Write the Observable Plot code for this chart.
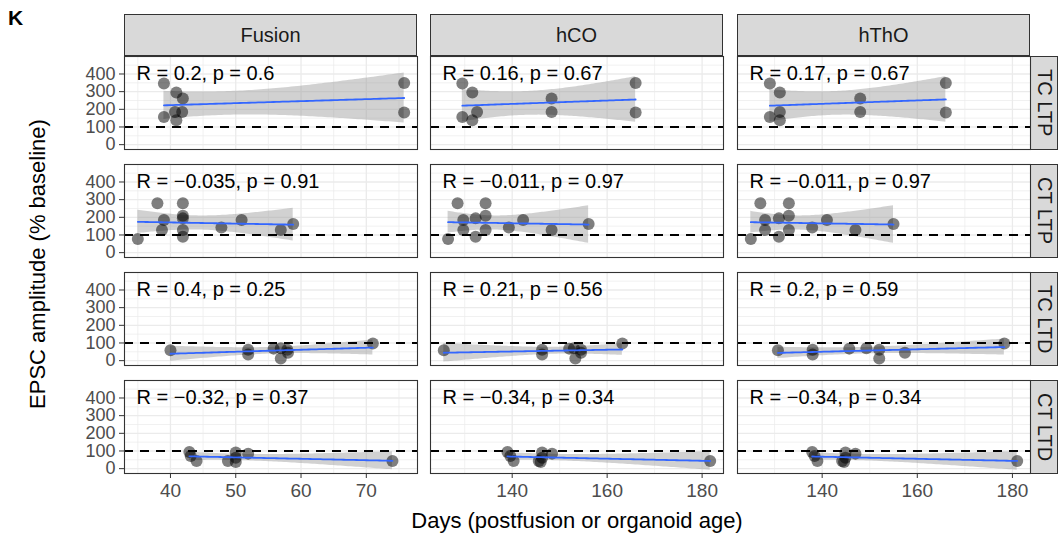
<!DOCTYPE html>
<html><head><meta charset="utf-8">
<script src="https://cdn.jsdelivr.net/npm/d3@7"></script>
<script src="https://cdn.jsdelivr.net/npm/@observablehq/plot@0.6"></script>
<style>
body{margin:0;background:#fff;font-family:"Liberation Sans",Arial,sans-serif;}
#root{position:relative;width:1062px;height:537px;overflow:hidden;background:#fff;}
.strip{position:absolute;background:#d9d9d9;border:1px solid #333;box-sizing:border-box;display:flex;align-items:center;justify-content:center;color:#1a1a1a;font-size:20px;}
.vstrip span{writing-mode:vertical-rl;}
.abs{position:absolute;}
</style></head><body><div id="root"></div>
<script>
// ---- categories / labels ----
const columns = ["Fusion", "hCO", "hThO"];
const rows = ["TC LTP", "CT LTP", "TC LTD", "CT LTD"];
const yTicks = [0, 100, 200, 300, 400];
const yMinor = [50, 150, 250, 350, 450];
const xTicksFusion = [40, 50, 60, 70];
const xMinorFusion = [35, 45, 55, 65, 75];
const xTicksOrganoid = [140, 160, 180];
const xMinorOrganoid = [130, 150, 170];
const statLabels = [
  ["R = 0.2, p = 0.6", "R = 0.16, p = 0.67", "R = 0.17, p = 0.67"],
  ["R = \u22120.035, p = 0.91", "R = \u22120.011, p = 0.97", "R = \u22120.011, p = 0.97"],
  ["R = 0.4, p = 0.25", "R = 0.21, p = 0.56", "R = 0.2, p = 0.59"],
  ["R = \u22120.32, p = 0.37", "R = \u22120.34, p = 0.34", "R = \u22120.34, p = 0.34"]
];

// ---- EPSC amplitude (% baseline), shared by the three age columns ----
const ampTCLTP = [346, 295, 261, 185, 185, 157, 138, 349, 182];
const ampCTLTP = [77, 279, 185, 128, 194, 90, 279, 209, 128, 143, 185, 128, 162];
const ampTCLTD = [59, 62, 35, 68, 70, 62, 12, 45, 97];
const ampCTLTD = [94, 72, 43, 91, 62, 43, 38, 85, 43];

// ---- days ----
const daysFusionTCLTP = [39.0, 40.9, 41.9, 41.8, 40.7, 39.0, 40.9, 75.8, 75.8];
const daysHCOTCLTP    = [129.5, 131.6, 148.3, 148.3, 132.6, 129.5, 131.6, 166.0, 166.0];
const daysHThOTCLTP   = [129.0, 131.1, 148.0, 148.0, 131.1, 129.0, 131.1, 166.0, 166.0];

const daysFusionCTLTP = [35.0, 38.0, 39.0, 38.7, 41.9, 41.9, 41.9, 41.9, 41.9, 47.8, 50.9, 56.9, 58.8];
const daysHCOCTLTP    = [126.5, 128.5, 129.7, 129.7, 132.3, 132.3, 134.4, 134.4, 134.4, 139.3, 142.3, 148.3, 156.1];
const daysHThOCTLTP   = [125.0, 127.0, 128.0, 128.0, 130.9, 130.9, 133.0, 133.0, 133.0, 137.9, 141.0, 147.0, 155.0];

const daysFusionTCLTD = [40.0, 51.9, 51.9, 55.8, 56.9, 57.9, 56.9, 58.0, 71.0];
const daysHCOTCLTD    = [125.6, 146.3, 146.3, 152.0, 153.0, 154.5, 153.3, 154.5, 163.2];
const daysHThOTCLTD   = [130.7, 138.0, 138.0, 145.7, 149.3, 152.0, 152.0, 157.4, 178.3];

const daysFusionCTLTD = [42.9, 43.1, 44.0, 50.0, 50.0, 48.8, 50.0, 51.9, 74.0];
const daysHCOCTLTD    = [139.0, 139.6, 140.3, 146.3, 146.3, 145.6, 146.0, 148.4, 181.7];
const daysHThOCTLTD   = [137.9, 138.4, 139.0, 144.9, 144.9, 144.2, 144.6, 147.0, 181.0];

const amps = [ampTCLTP, ampCTLTP, ampTCLTD, ampCTLTD];
const days = [
  [daysFusionTCLTP, daysHCOTCLTP, daysHThOTCLTP],
  [daysFusionCTLTP, daysHCOCTLTP, daysHThOCTLTP],
  [daysFusionTCLTD, daysHCOTCLTD, daysHThOTCLTD],
  [daysFusionCTLTD, daysHCOCTLTD, daysHThOCTLTD]
];

// ---- layout ----
const FONT = '"Liberation Sans", Arial, sans-serif';
const panelLeft = [124, 430, 737];
const panelW = 293;
const panelTop = [56, 164, 272, 380];
const panelH = 93;
const yDomain = [-27.5, 499];

function tq(df) {
  const t = {1:12.706,2:4.303,3:3.182,4:2.776,5:2.571,6:2.447,7:2.365,8:2.306,9:2.262,10:2.228,11:2.201,12:2.179,13:2.160,14:2.145,15:2.131,16:2.120,17:2.110,18:2.101,19:2.093,20:2.086};
  return t[df] || 1.96;
}
function lmBand(xs, ys) {
  const n = xs.length, mx = d3.mean(xs), my = d3.mean(ys);
  let sxx = 0, sxy = 0;
  for (let i = 0; i < n; i++) { sxx += (xs[i]-mx)**2; sxy += (xs[i]-mx)*(ys[i]-my); }
  const b = sxy / sxx, a = my - b * mx;
  let sse = 0;
  for (let i = 0; i < n; i++) sse += (ys[i] - a - b*xs[i])**2;
  const s = Math.sqrt(sse / (n - 2)), t = tq(n - 2);
  const [x0, x1] = d3.extent(xs);
  return d3.range(80).map(i => {
    const x = x0 + (x1 - x0) * i / 79, yh = a + b * x;
    const se = s * Math.sqrt(1/n + (x - mx)**2 / sxx);
    return {x, y: yh, lo: yh - t*se, hi: yh + t*se};
  });
}
function xDomainFor(c) {
  const all = days.flatMap(r => r[c]);
  const [lo, hi] = d3.extent(all), p = (hi - lo) * 0.05;
  return [lo - p, hi + p];
}

const root = document.getElementById("root");
function addDiv(cls, style, html) {
  const d = document.createElement("div");
  d.className = cls; Object.assign(d.style, style);
  if (html != null) d.innerHTML = html;
  root.appendChild(d); return d;
}

// panel label K
addDiv("abs", {left: "8px", top: "6px", fontSize: "21px", fontWeight: "bold", color: "#000"}, "K");

// top strips
columns.forEach((name, c) => {
  addDiv("strip", {left: panelLeft[c] + "px", top: "14px", width: panelW + "px", height: "42px"}, name);
});
// right strips
rows.forEach((name, r) => {
  addDiv("strip vstrip", {left: "1030px", top: panelTop[r] + "px", width: "28px", height: (panelH + 1) + "px"}, "<span>" + name + "</span>");
});

for (let r = 0; r < 4; r++) {
  for (let c = 0; c < 3; c++) {
    const xs = days[r][c], ys = amps[r];
    const pts = xs.map((x, i) => ({x, y: ys[i]}));
    const band = lmBand(xs, ys);
    const isFusion = c === 0;
    const xT = isFusion ? xTicksFusion : xTicksOrganoid;
    const xM = isFusion ? xMinorFusion : xMinorOrganoid;
    const showY = c === 0, showX = r === 3;
    const mL = showY ? 80 : 0, mB = showX ? 40 : 0;
    const marks = [
      Plot.ruleX(xM, {stroke: "#ebebeb", strokeWidth: 0.7}),
      Plot.ruleY(yMinor, {stroke: "#ebebeb", strokeWidth: 0.7}),
      Plot.ruleX(xT, {stroke: "#ebebeb", strokeWidth: 1.3}),
      Plot.ruleY(yTicks, {stroke: "#ebebeb", strokeWidth: 1.3}),
      Plot.areaY(band, {x: "x", y1: "lo", y2: "hi", fill: "#999999", fillOpacity: 0.45}),
      Plot.ruleY([100], {stroke: "#000", strokeWidth: 1.8, strokeDasharray: "9,7"}),
      Plot.dot(pts, {x: "x", y: "y", r: 6, fill: "#000", fillOpacity: 0.5, stroke: null}),
      Plot.line(band, {x: "x", y: "y", stroke: "#3366FF", strokeWidth: 1.8}),
      Plot.frame({stroke: "#333", strokeWidth: 1.1}),
      Plot.text([statLabels[r][c]], {text: d => d, frameAnchor: "top-left", dx: 12, dy: 9, textAnchor: "start", lineAnchor: "top", fontSize: 20, fill: "#000"})
    ];
    if (showY) marks.push(Plot.axisY(yTicks, {tickSize: 5, tickPadding: 4, stroke: "#333", fill: "#4d4d4d", fontSize: 18, label: null}));
    if (showX) marks.push(Plot.axisX(xT, {tickSize: 5, tickPadding: 5, stroke: "#333", fill: "#4d4d4d", fontSize: 19, label: null}));
    const chart = Plot.plot({
      width: panelW + mL, height: panelH + mB,
      marginLeft: mL, marginRight: 0, marginTop: 0, marginBottom: mB,
      style: {overflow: "visible", background: "transparent", fontFamily: FONT, fontSize: "19px"},
      x: {domain: xDomainFor(c), axis: showX ? undefined : null},
      y: {domain: yDomain, axis: showY ? undefined : null},
      marks
    });
    const wrap = addDiv("abs", {left: (panelLeft[c] - mL) + "px", top: panelTop[r] + "px"});
    wrap.appendChild(chart);
  }
}

// axis titles
addDiv("abs", {left: (577 - 300) + "px", top: "508px", width: "600px", textAlign: "center", fontSize: "22px", color: "#000"}, "Days (postfusion or organoid age)");
addDiv("abs", {left: (38 - 250) + "px", top: (264 - 13) + "px", width: "500px", height: "26px", lineHeight: "26px", textAlign: "center", fontSize: "22px", color: "#000", transform: "rotate(-90deg)"}, "EPSC amplitude (% baseline)");
</script></body></html>
